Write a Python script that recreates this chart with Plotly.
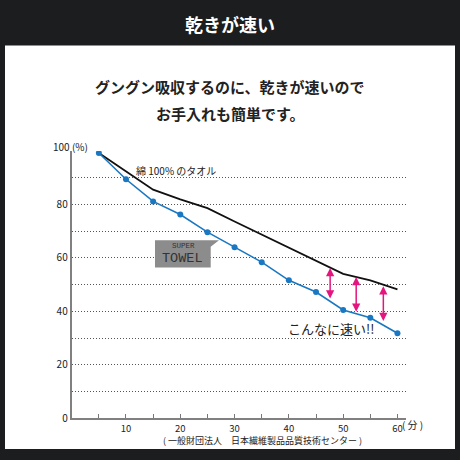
import plotly.graph_objects as go

# drying test data (remaining moisture %)
minutes = [5, 10, 15, 20, 25, 30, 35, 40, 45, 50, 55, 60]
super_towel = [99.2, 89.4, 81.1, 76.2, 69.6, 64.0, 58.4, 51.6, 47.2, 40.5, 37.6, 31.8]
cotton_towel = [99.2, 92.4, 85.5, 81.9, 78.6, 73.6, 68.7, 63.8, 58.9, 54.0, 51.6, 48.2]

# pink difference arrows
arrow_x = [47.6, 52.4, 57.4]
arrow_top = [56.2, 52.8, 49.4]
arrow_bottom = [44.2, 39.3, 35.8]

x_ticks = [5, 10, 15, 20, 25, 30, 35, 40, 45, 50, 55, 60]
x_labels = ["", "10", "", "20", "", "30", "", "40", "", "50", "", "60"]
y_ticks = [0, 10, 20, 30, 40, 50, 60, 70, 80, 90]
y_labels = ["0", "", "20", "", "40", "", "60", "", "80", ""]

FONT = "Noto Sans CJK JP"
BLUE = "#1a78c2"
PINK = "#e5157f"
W = 460


def px(x):
    return x / W


def py(y):
    return 1 - y / W


fig = go.Figure()

fig.add_trace(go.Scatter(x=minutes, y=cotton_towel, mode="lines",
                         line=dict(color="#111111", width=1.8), hoverinfo="skip"))
fig.add_trace(go.Scatter(x=minutes, y=super_towel, mode="lines+markers",
                         line=dict(color=BLUE, width=1.6),
                         marker=dict(color=BLUE, size=6), hoverinfo="skip"))

#white panel under the chart
fig.add_shape(type="rect", xref="paper", yref="paper", layer="below",
              x0=px(5), x1=px(455), y0=py(455), y1=py(46),
              fillcolor="white", line=dict(width=0))

#SUPER TOWEL tag with a notch at top right
path = "M {} {} L {} {} L {} {} L {} {} L {} {} Z".format(
    px(155), py(243.3), px(219), py(243.3), px(210.7), py(250),
    px(210.7), py(271), px(155), py(271))
fig.add_shape(type="path", path=path, xref="paper", yref="paper", layer="above",
              fillcolor="#8c8c8c", line=dict(width=0))

annotations = [
    dict(text="<b>乾きが速い</b>", x=0.5, y=py(24), font=dict(size=18, color="white")),
    dict(text="<b>グングン吸収するのに、乾きが速いので</b>", x=0.5, y=py(88),
         font=dict(size=15, color="#222222")),
    dict(text="<b>お手入れも簡単です。</b>", x=0.5, y=py(115),
         font=dict(size=15, color="#222222")),
    dict(text="100 (%)", x=px(52), y=py(148), xanchor="left",
         font=dict(size=10, color="#222222")),
    dict(text="( 分 )", x=px(401), y=py(430), xanchor="left",
         font=dict(size=10, color="#222222")),
    dict(text="( 一般財団法人　日本繊維製品品質技術センター )", x=px(262), y=py(446),
         font=dict(size=9, color="#222222")),
    dict(text="綿 100% のタオル", x=px(176), y=py(173), font=dict(size=10, color="#222222")),
    dict(text="こんなに速い!!", x=px(331), y=py(333), font=dict(size=13, color="#222222")),
    dict(text="SUPER", x=px(183), y=py(249.5),
         font=dict(family="Liberation Mono", size=7.5, color="#333333")),
    dict(text="TOWEL", x=px(182.5), y=py(261.5),
         font=dict(family="Liberation Mono", size=13.5, color="#333333")),
]
for a in annotations:
    a.update(xref="paper", yref="paper", showarrow=False, yanchor="middle", borderpad=0)
    a.setdefault("xanchor", "center")
    a["font"].setdefault("family", FONT)
    fig.add_annotation(**a)

for xa, top, bottom in zip(arrow_x, arrow_top, arrow_bottom):
    fig.add_annotation(x=xa, y=top, ax=xa, ay=bottom, xref="x", yref="y",
                       axref="x", ayref="y", text="", showarrow=True,
                       arrowside="end+start", arrowhead=2, arrowsize=1.1,
                       arrowwidth=1.5, arrowcolor=PINK)

fig.update_xaxes(range=[0, 61.5], domain=[px(71.7), px(405.6)],
                 tickvals=x_ticks, ticktext=x_labels,
                 ticks="inside", ticklen=4, tickwidth=1, tickcolor="#777777",
                 showline=True, linecolor="#808080", linewidth=2,
                 showgrid=False, zeroline=False, ticklabelstandoff=0,
                 tickfont=dict(family=FONT, size=9.5, color="#222222"))
fig.update_yaxes(range=[0, 100], domain=[py(423.8), py(152.9)],
                 tickvals=y_ticks, ticktext=y_labels, ticks="",
                 showline=True, linecolor="#808080", linewidth=2,
                 showgrid=True, gridcolor="#555555", gridwidth=1, griddash="1px,2px",
                 zeroline=False,
                 tickfont=dict(family=FONT, size=10, color="#222222"))

fig.update_layout(width=460, height=460, margin=dict(l=0, r=0, t=0, b=0),
                  paper_bgcolor="#1b1d1e", plot_bgcolor="rgba(0,0,0,0)",
                  showlegend=False)

fig.write_html("out.html", config={"displayModeBar": False},
               post_script="document.body.style.margin='0px';")
